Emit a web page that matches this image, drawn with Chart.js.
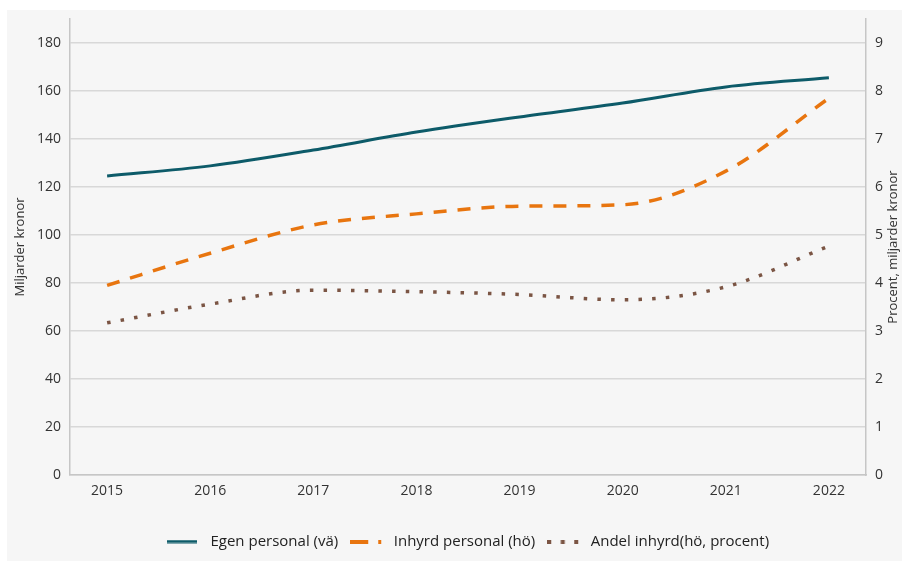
<!DOCTYPE html>
<html lang="sv">
<head>
    <meta charset="UTF-8">
    <title>Egen och inhyrd personal</title>
    <style>
        body {
            margin: 0;
            padding: 0;
            background-color: #ffffff;
        }
        #wrap {
            position: relative;
            width: 902px;
            height: 561px;
        }
    </style>
</head>
<body>
    <div id="wrap">
        <canvas id="chart" width="902" height="561"></canvas>
    </div>

    <script src="https://cdn.jsdelivr.net/npm/chart.js"></script>
    <script>
        // Values
        const years = [2015, 2016, 2017, 2018, 2019, 2020, 2021, 2022];
        const egenPersonal = [124.6, 128.8, 135.4, 142.9, 149.2, 155.0, 161.7, 165.5];   // miljarder kr, left axis
        const inhyrdPersonal = [3.95, 4.62, 5.21, 5.44, 5.60, 5.63, 6.33, 7.85];        // miljarder kr, right axis
        const andelInhyrd = [3.17, 3.56, 3.85, 3.82, 3.76, 3.65, 3.92, 4.77];           // procent, right axis
        const leftTicks = [0, 20, 40, 60, 80, 100, 120, 140, 160, 180];
        const rightTicks = [0, 1, 2, 3, 4, 5, 6, 7, 8, 9];

        const fontFamily = '"Open Sans", "DejaVu Sans", sans-serif';
        const textColor = '#333333';
        const axisColor = '#c6c6c6';

        function points(values) {
            return years.map((yr, i) => ({ x: yr, y: values[i] }));
        }

        // small pictures for the legend, since point styles ignore the dash
        function legendSample(color, kind) {
            const c = document.createElement('canvas');
            c.width = 36;
            c.height = 4;
            const g = c.getContext('2d');
            g.fillStyle = color;
            if (kind === 'solid') {
                g.fillRect(0, 0.5, 30, 3);
            } else if (kind === 'dash') {
                g.fillRect(0, 0, 18, 4);
                g.fillRect(28, 0, 3, 4);
            } else {
                g.fillRect(0, 0, 4, 4);
                g.fillRect(13.5, 0, 4, 4);
                g.fillRect(27, 0, 4, 4);
            }
            return c;
        }

        // grey panel behind the chart and the right axis title (reads bottom to top)
        const panelPlugin = {
            id: 'panel',
            beforeDraw(chart) {
                const ctx = chart.ctx;
                ctx.save();
                ctx.fillStyle = '#f6f6f6';
                ctx.fillRect(7, 10, chart.width - 7, chart.height - 10);
                ctx.restore();
            },
            afterDraw(chart) {
                const ctx = chart.ctx;
                const area = chart.chartArea;
                ctx.save();
                ctx.translate(893, (area.top + area.bottom) / 2);
                ctx.rotate(-Math.PI / 2);
                ctx.font = '13px ' + fontFamily;
                ctx.fillStyle = textColor;
                ctx.textAlign = 'center';
                ctx.textBaseline = 'middle';
                ctx.fillText('Procent, miljarder kronor', 0, 0);
                ctx.restore();
            }
        };

        const ctx = document.getElementById('chart').getContext('2d');
        const chart = new Chart(ctx, {
            type: 'line',
            data: {
                datasets: [
                    {
                        label: 'Egen personal (vä)',
                        data: points(egenPersonal),
                        yAxisID: 'y',
                        borderColor: '#0d5b69',
                        backgroundColor: '#0d5b69',
                        borderWidth: 3,
                        pointRadius: 0,
                        pointStyle: legendSample('#0d5b69', 'solid'),
                        cubicInterpolationMode: 'monotone'
                    },
                    {
                        label: 'Inhyrd personal (hö)',
                        data: points(inhyrdPersonal),
                        yAxisID: 'y1',
                        borderColor: '#e8750f',
                        backgroundColor: '#e8750f',
                        borderWidth: 3.5,
                        borderDash: [13, 11],
                        pointRadius: 0,
                        pointStyle: legendSample('#e8750f', 'dash'),
                        cubicInterpolationMode: 'monotone'
                    },
                    {
                        label: 'Andel inhyrd(hö, procent)',
                        data: points(andelInhyrd),
                        yAxisID: 'y1',
                        borderColor: '#7b5544',
                        backgroundColor: '#7b5544',
                        borderWidth: 3.5,
                        borderDash: [3.5, 10.2],
                        pointRadius: 0,
                        pointStyle: legendSample('#7b5544', 'dots'),
                        cubicInterpolationMode: 'monotone'
                    }
                ]
            },
            options: {
                responsive: false,
                animation: false,
                layout: {
                    padding: { top: 19, left: 0, right: 0, bottom: 0 }
                },
                plugins: {
                    tooltip: { enabled: false },
                    legend: {
                        position: 'bottom',
                        fullSize: false,
                        labels: {
                            usePointStyle: true,
                            pointStyleWidth: 36,
                            padding: 12,
                            color: '#222222',
                            font: { family: fontFamily, size: 15 }
                        }
                    }
                },
                scales: {
                    x: {
                        type: 'linear',
                        min: 2014.64,
                        max: 2022.36,
                        afterBuildTicks: (scale) => {
                            scale.ticks = years.map(v => ({ value: v }));
                        },
                        afterFit: (scale) => {
                            scale.height = 47;
                        },
                        grid: { display: false, drawTicks: false },
                        border: { display: true, color: axisColor, width: 1.5 },
                        ticks: {
                            padding: 8,
                            color: textColor,
                            font: { family: fontFamily, size: 14 },
                            callback: (v) => String(v)
                        }
                    },
                    y: {
                        position: 'left',
                        min: 0,
                        max: 190,
                        afterBuildTicks: (scale) => {
                            scale.ticks = leftTicks.map(v => ({ value: v }));
                        },
                        afterFit: (scale) => {
                            scale.width = 70;
                        },
                        grid: { color: '#d8d8d8', lineWidth: 1.5, drawTicks: false },
                        border: { display: true, color: axisColor, width: 1.5 },
                        ticks: {
                            padding: 9,
                            color: textColor,
                            font: { family: fontFamily, size: 14 }
                        },
                        title: {
                            display: true,
                            text: 'Miljarder kronor',
                            color: textColor,
                            font: { family: fontFamily, size: 13 },
                            padding: { top: 12, bottom: 0 }
                        }
                    },
                    y1: {
                        position: 'right',
                        min: 0,
                        max: 9.5,
                        afterBuildTicks: (scale) => {
                            scale.ticks = rightTicks.map(v => ({ value: v }));
                        },
                        afterFit: (scale) => {
                            scale.width = 36;
                        },
                        grid: { display: false, drawTicks: false },
                        border: { display: true, color: axisColor, width: 1.5 },
                        ticks: {
                            padding: 9,
                            color: textColor,
                            font: { family: fontFamily, size: 14 }
                        }
                    }
                }
            },
            plugins: [panelPlugin]
        });

        // lift the legend a little, like the reference
        const origFit = chart.legend.fit;
        chart.legend.fit = function () {
            origFit.call(this);
            this.height += 2;
        };
        chart.update();
    </script>
</body>
</html>
